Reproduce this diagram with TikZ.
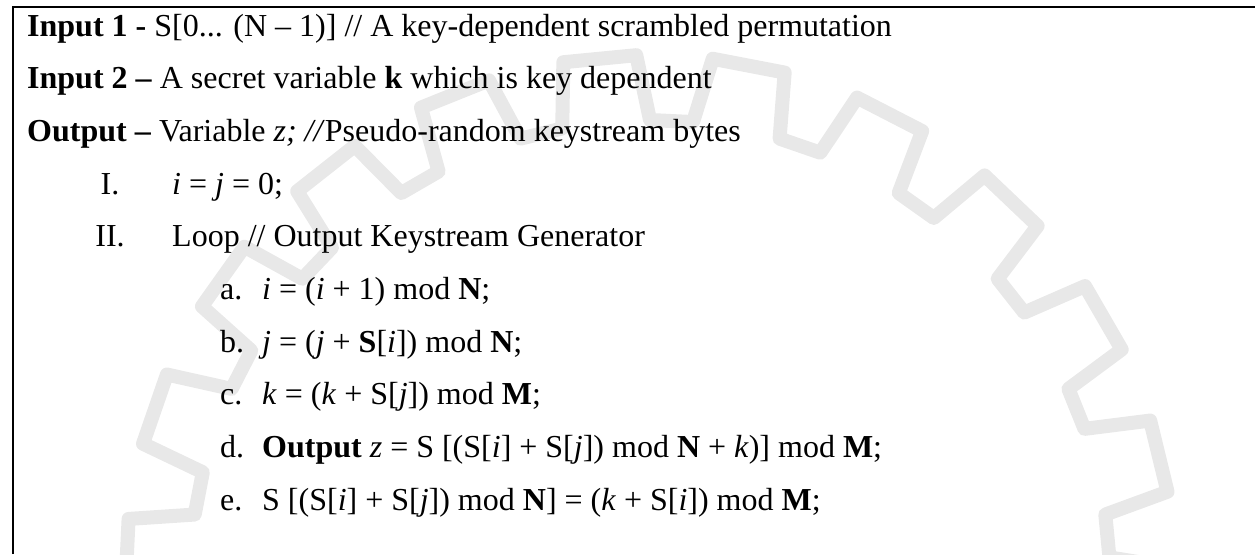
\documentclass[tikz,border=0pt]{standalone}
\usepackage{fontspec}
\setmainfont{Liberation Serif}
\begin{document}
\begin{tikzpicture}[x=1pt,y=-1pt,
  txt/.style={anchor=base west, inner sep=0pt, font=\fontsize{32}{38}\selectfont},
  num/.style={anchor=base, inner sep=0pt, font=\fontsize{32}{38}\selectfont},
  frameline/.style={line width=2.6pt},
  wm/.style={draw=black!9, line width=14pt, line join=round}]
\useasboundingbox (0,0) rectangle (1255,554);
\begin{scope}
  \clip (0,0) rectangle (1255,554);
  \begin{scope}[shift={(650,580)}]
    \draw[wm] ({-101}:460) \foreach \k in {0,...,21} {
        -- ({-95.5+\k*16.3636-5.5}:460) -- ({-95.5+\k*16.3636-4}:525)
        -- ({-95.5+\k*16.3636+4}:525) -- ({-95.5+\k*16.3636+5.5}:460) } -- cycle;
  \end{scope}
\end{scope}
\draw[frameline] (13,554) -- (13,7) -- (1255,7);
\node[txt] (in1) at (27,36) {\textbf{Input 1 -} S[0... (N – 1)] // A key-dependent scrambled permutation};
\node[txt] (in2) at (27,88.7) {\textbf{Input 2 –} A secret variable \textbf{k} which is key dependent};
\node[txt] (out) at (27,141.4) {\textbf{Output –} Variable \textit{z; //}Pseudo-random keystream bytes};
\node[num] (n1) at (110,194.1) {I.};
\node[txt] (s1) at (172,194.1) {\textit{i} = \textit{j} = 0;};
\node[num] (n2) at (110,246.8) {II.};
\node[txt] (s2) at (172,246.8) {Loop // Output Keystream Generator};
\node[txt] (la) at (220,299.5) {a.};
\node[txt] (sa) at (262,299.5) {\textit{i} = (\textit{i} + 1) mod \textbf{N};};
\node[txt] (lb) at (220,352.2) {b.};
\node[txt] (sb) at (262,352.2) {\textit{j} = (\textit{j} + \textbf{S}[\textit{i}]) mod \textbf{N};};
\node[txt] (lc) at (220,404.9) {c.};
\node[txt] (sc) at (262,404.9) {\textit{k} = (\textit{k} + S[\textit{j}]) mod \textbf{M};};
\node[txt] (ld) at (220,457.6) {d.};
\node[txt] (sd) at (262,457.6) {\textbf{Output} \textit{z} = S [(S[\textit{i}] + S[\textit{j}]) mod \textbf{N} + \textit{k})] mod \textbf{M};};
\node[txt] (le) at (220,510.3) {e.};
\node[txt] (se) at (262,510.3) {S [(S[\textit{i}] + S[\textit{j}]) mod \textbf{N}] = (\textit{k} + S[\textit{i}]) mod \textbf{M};};
\end{tikzpicture}
\end{document}
